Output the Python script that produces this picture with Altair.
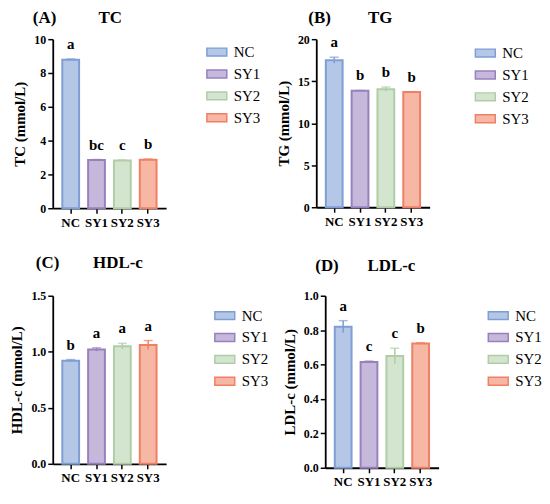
import altair as alt
import pandas as pd

groups = ["NC", "SY1", "SY2", "SY3"]
fills = ["#b4c7e6", "#c6b8da", "#d4e5cf", "#f7b7a5"]
edges = ["#7f9ed3", "#9880be", "#b0cda8", "#ef8063"]

tc_mean = [8.78, 2.85, 2.83, 2.87]
tc_err = [0.05, 0.03, 0.02, 0.04]
tc_letters = ["a", "bc", "c", "b"]

tg_mean = [17.5, 13.85, 14.05, 13.7]
tg_err = [0.35, 0.05, 0.25, 0.05]
tg_letters = ["a", "b", "b", "b"]

hdl_mean = [0.92, 1.02, 1.05, 1.06]
hdl_err = [0.01, 0.015, 0.025, 0.04]
hdl_letters = ["b", "a", "a", "a"]

ldl_mean = [0.82, 0.615, 0.65, 0.722]
ldl_err = [0.035, 0.005, 0.045, 0.005]
ldl_letters = ["a", "c", "c", "b"]

tc_ticks = [0, 2, 4, 6, 8, 10]
tg_ticks = [0, 5, 10, 15, 20]
hdl_ticks = [0.0, 0.5, 1.0, 1.5]
ldl_ticks = [0.0, 0.2, 0.4, 0.6, 0.8, 1.0]

SERIF = "Liberation Serif"
RECT = "M-1,-0.4L1,-0.4L1,0.4L-1,0.4Z"


def panel(title, ytitle, means, errs, letters, ticks, fmt, height, title_dx,
          title_offset, leg_x, leg_y):
    df = pd.DataFrame({
        "group": groups,
        "mean": means,
        "lo": [m - e for m, e in zip(means, errs)],
        "hi": [m + e for m, e in zip(means, errs)],
        "letter": letters,
        "edge": edges,
    })
    xenc = alt.X("group:N", sort=groups,
                 scale=alt.Scale(paddingInner=0.35, paddingOuter=0.37),
                 axis=alt.Axis(title=None, labelAngle=0, labelFontSize=13, labelPadding=3))
    yscale = alt.Scale(domain=[ticks[0], ticks[-1]], nice=False, zero=True)
    yaxis = alt.Axis(values=ticks, format=fmt, title=ytitle, titleFontSize=15,
                     titlePadding=6, labelFontSize=12, labelOverlap=False,
                     tickCount=len(ticks))
    legend = alt.Legend(title=None, symbolType=RECT, symbolSize=400,
                        symbolStrokeWidth=1.5, labelFont=SERIF, labelFontSize=15,
                        labelColor="black", labelOffset=6, rowPadding=3,
                        orient="none", legendX=leg_x, legendY=leg_y, padding=0)
    base = alt.Chart(df).encode(x=xenc)
    bars = base.mark_bar(strokeWidth=2).encode(
        y=alt.Y("mean:Q", scale=yscale, axis=yaxis, title=ytitle),
        fill=alt.Fill("group:N", sort=groups,
                      scale=alt.Scale(domain=groups, range=fills), legend=legend),
        stroke=alt.Stroke("group:N", sort=groups,
                          scale=alt.Scale(domain=groups, range=edges), legend=legend),
    )
    err = base.mark_rule(strokeWidth=1.5).encode(
        y=alt.Y("lo:Q", scale=yscale, axis=yaxis, title=ytitle), y2="hi:Q",
        color=alt.Color("edge:N", scale=None))
    cap = base.mark_tick(thickness=1.5, size=9).encode(
        y=alt.Y("hi:Q", scale=yscale, axis=yaxis, title=ytitle),
        color=alt.Color("edge:N", scale=None))
    txt = base.mark_text(font=SERIF, fontWeight="bold", fontSize=15,
                         baseline="alphabetic", dy=-10, color="black").encode(
        y=alt.Y("hi:Q", scale=yscale, axis=yaxis, title=ytitle), text="letter:N")
    return alt.layer(bars, err, cap, txt).properties(
        width=114, height=height,
        title=alt.TitleParams(title, anchor="start", frame="group", dx=title_dx,
                              offset=title_offset, font=SERIF, fontSize=17,
                              fontWeight="bold", color="black"),
    )


a = panel("(A)\u2003\u2003\u2002TC", "TC (mmol/L)", tc_mean, tc_err, tc_letters,
          tc_ticks, "d", 170, -20, 6, 154, 2)
b = panel("(B)\u2003\u2003\u2009TG", "TG (mmol/L)", tg_mean, tg_err, tg_letters,
          tg_ticks, "d", 169, -8, 6, 159, 3)
c = panel("(C)\u2003\u2003HDL-c", "HDL-c (mmol/L)", hdl_mean, hdl_err, hdl_letters,
          hdl_ticks, ".1f", 169, -17, 18, 162, 9)
d = panel("(D)\u2003\u2002\u2009LDL-c", "LDL-c (mmol/L)", ldl_mean, ldl_err, ldl_letters,
          ldl_ticks, ".1f", 173, -10, 15, 163, 9)

row1 = alt.hconcat(a, b, spacing=16).resolve_scale(
    x="independent", y="independent", fill="independent", stroke="independent")
row2 = alt.hconcat(c, d, spacing=14).resolve_scale(
    x="independent", y="independent", fill="independent", stroke="independent")

chart = alt.vconcat(row1, row2, spacing=25).resolve_scale(
    x="independent", y="independent", fill="independent", stroke="independent"
).configure(
    padding={"left": 2, "top": 0, "right": 0, "bottom": 0},
    background="white",
).configure_axis(
    labelFont=SERIF, labelFontWeight="bold", labelColor="black",
    titleFont=SERIF, titleFontWeight="bold", titleColor="black",
    domainColor="black", domainWidth=1.8, tickColor="black", tickWidth=1.5,
    tickSize=5, grid=False,
).configure_legend(
    labelFont=SERIF, labelFontSize=15, labelColor="black",
).configure_view(stroke=None)

chart.save("out.html", embed_options={"renderer": "svg", "actions": False})
